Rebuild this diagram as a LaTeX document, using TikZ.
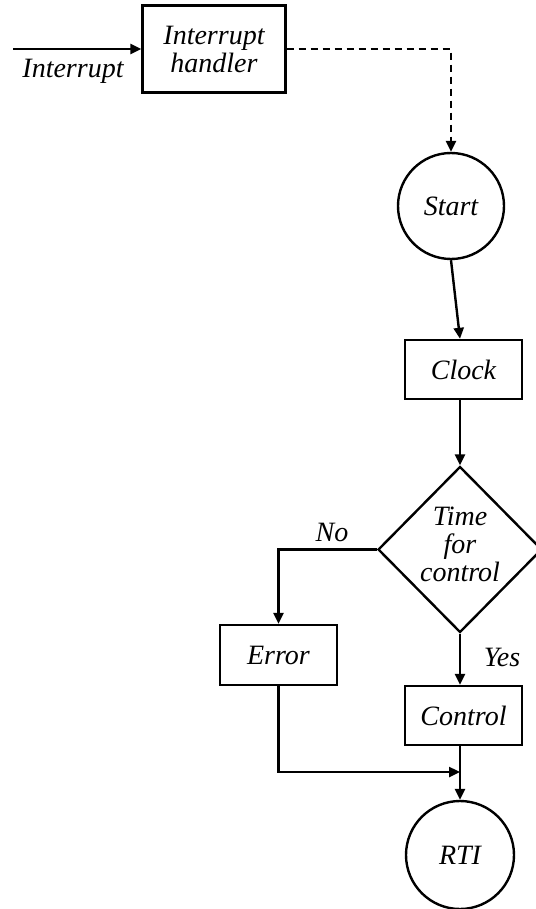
\documentclass[tikz,border=0pt]{standalone}
\usepackage{fontspec}
\setmainfont{Liberation Serif}
\usetikzlibrary{arrows.meta,shapes.geometric,calc}
\begin{document}
\begin{tikzpicture}[x=1pt,y=-1pt,
  font=\fontsize{28}{28}\selectfont\itshape,
  line width=2.4pt,
  arr/.style={-{Triangle[length=11pt,width=10pt]}},
  proc/.style={draw,rectangle,inner sep=0pt,align=center},
  term/.style={draw,circle,inner sep=0pt,minimum size=106pt},
  lbl/.style={inner sep=0pt,align=center}]
\useasboundingbox (0,0) rectangle (535,909);

% boxes and terminals
\node[proc,minimum width=143pt,minimum height=87pt] (ih) at (214,49) {Interrupt\\handler};
\node[term] (start) at (451,206) {Start};
\node[proc,minimum width=117pt,minimum height=59pt] (clock) at (463.5,369.5) {Clock};
\node[draw,diamond,aspect=1,inner sep=0pt,minimum width=164pt,minimum height=166pt] (dia) at (460,549.5) {};
\node[lbl] (dtext) at (460,544) {Time\\for\\control};
\node[proc,minimum width=117pt,minimum height=60pt] (err) at (278.5,655) {Error};
\node[proc,minimum width=117pt,minimum height=59pt] (ctrl) at (463.5,715.5) {Control};
\node[term,minimum size=108pt] (rti) at (460,855) {RTI};

% free ends and labels
\coordinate (inl) at (13,49);
\coordinate (join) at (460,772);
\node[lbl] (intlbl) at (73,71) {Interrupt};
\node[lbl] (nolbl) at (332,532) {No};
\node[lbl] (yeslbl) at (502,657) {Yes};

% connectors
\draw[arr] (inl) -- (ih.west);
\draw[arr,dashed,dash pattern=on 7pt off 5pt] (ih.east) -| (start.north);
\draw[arr] (start.south) -- (clock.north -| dia.north);
\draw[arr] (clock.south -| dia.north) -- (dia.north);
\draw[arr] (dia.west) -| (err.north);
\draw[arr] (dia.south) -- (ctrl.north -| dia.south);
\draw[arr] (ctrl.south -| rti.north) -- (rti.north);
\draw[arr] (err.south) |- (join);
\end{tikzpicture}
\end{document}
